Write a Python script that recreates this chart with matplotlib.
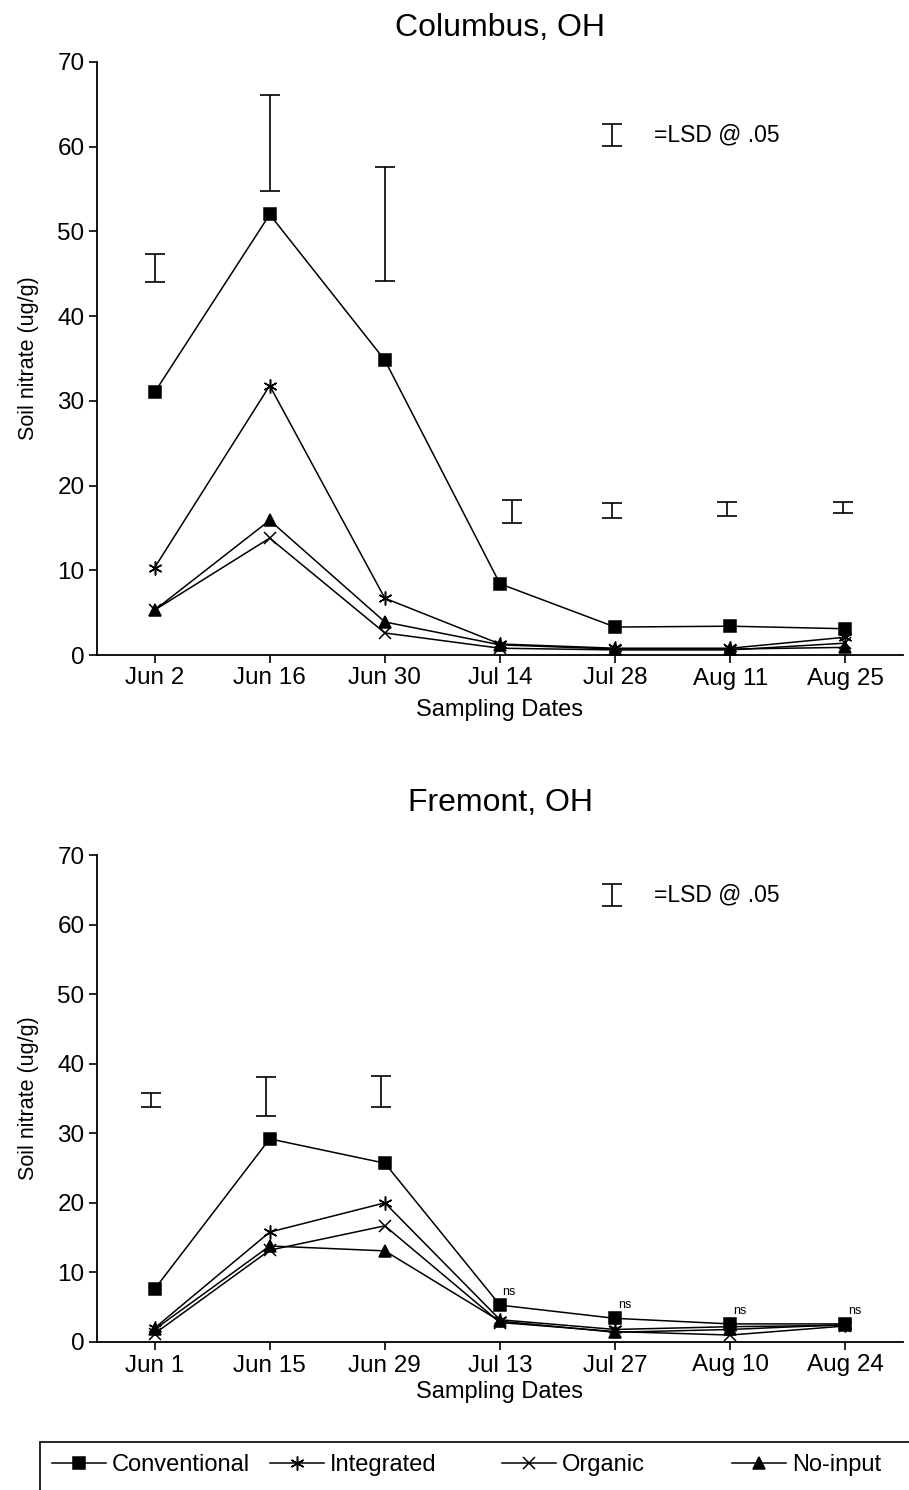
import matplotlib
matplotlib.use("Agg")
import matplotlib.pyplot as plt
from matplotlib.lines import Line2D
from matplotlib.patches import Rectangle

plt.rcParams['font.family'] = ['Liberation Sans', 'DejaVu Sans']

# ---- Columbus data ----
col_dates = ["Jun 2", "Jun 16", "Jun 30", "Jul 14", "Jul 28", "Aug 11", "Aug 25"]
col_conventional = [31.0, 52.0, 34.8, 8.4, 3.3, 3.4, 3.1]
col_integrated = [10.3, 31.8, 6.7, 1.3, 0.8, 0.8, 2.1]
col_organic = [5.3, 13.8, 2.6, 0.8, 0.6, 0.6, 1.4]
col_noinput = [5.3, 15.9, 3.9, 1.2, 0.7, 0.7, 0.9]
col_lsd_pos = [0, 1, 2, 3.1, 3.97, 4.97, 5.98]
col_lsd_low = [44.0, 54.8, 44.2, 15.6, 16.2, 16.4, 16.8]
col_lsd_high = [47.3, 66.1, 57.6, 18.3, 18.0, 18.1, 18.1]

# ---- Fremont data ----
fre_dates = ["Jun 1", "Jun 15", "Jun 29", "Jul 13", "Jul 27", "Aug 10", "Aug 24"]
fre_conventional = [7.6, 29.2, 25.7, 5.3, 3.4, 2.6, 2.6]
fre_integrated = [2.0, 15.8, 20.0, 3.2, 1.8, 2.2, 2.4]
fre_organic = [1.2, 13.2, 16.7, 2.8, 1.5, 1.0, 2.3]
fre_noinput = [1.8, 13.8, 13.1, 3.0, 1.4, 1.8, 2.5]
fre_lsd_pos = [-0.03, 0.97, 1.97]
fre_lsd_low = [33.8, 32.5, 33.8]
fre_lsd_high = [35.8, 38.1, 38.2]
fre_ns_idx = [3, 4, 5, 6]

series_names = ["Conventional", "Integrated", "Organic", "No-input"]
markers = ['s', (6, 2, 0), 'x', '^']
msizes = [8, 10, 8, 8]

fig = plt.figure(figsize=(9.09, 14.90), dpi=100)

CAP = 7.5


def draw(ax, dates, series, lsd_pos, lsd_low, lsd_high, title, legend_lsd,
         title_pad, xlabel_pad):
    x = list(range(len(dates)))
    for vals, m, ms in zip(series, markers, msizes):
        ax.plot(x, vals, color='black', lw=1.1, marker=m, ms=ms,
                markerfacecolor='black', markeredgecolor='black', mew=1.1)
    mid = [(a + b) / 2 for a, b in zip(lsd_low, lsd_high)]
    half = [(b - a) / 2 for a, b in zip(lsd_low, lsd_high)]
    ax.errorbar(lsd_pos, mid, yerr=half, fmt='none', ecolor='black',
                elinewidth=1.2, capsize=CAP, capthick=1.2)
    # legend LSD symbol
    lx, llo, lhi = legend_lsd
    ax.errorbar([lx], [(llo + lhi) / 2], yerr=[(lhi - llo) / 2], fmt='none',
                ecolor='black', elinewidth=1.2, capsize=CAP, capthick=1.2)
    ax.text(lx + 0.37, (llo + lhi) / 2, "=LSD @ .05", fontsize=16.5,
            va='center', ha='left')
    ax.set_xlim(-0.5, 6.5)
    ax.set_ylim(0, 70)
    ax.set_yticks(range(0, 71, 10))
    ax.set_xticks(x)
    ax.set_xticklabels(dates)
    ax.spines['top'].set_visible(False)
    ax.spines['right'].set_visible(False)
    ax.spines['left'].set_linewidth(1.3)
    ax.spines['bottom'].set_linewidth(1.3)
    ax.tick_params(axis='both', labelsize=17.5, direction='out', length=6,
                   width=1.2, pad=3)
    ax.set_xlabel("Sampling Dates", fontsize=17, labelpad=xlabel_pad)
    ax.set_ylabel("Soil nitrate (ug/g)", fontsize=15.5, labelpad=13)
    ax.set_title(title, fontsize=23, pad=title_pad)


ax1 = fig.add_axes([97 / 909, 1 - 655 / 1490, 806 / 909, 593 / 1490])
draw(ax1, col_dates, [col_conventional, col_integrated, col_organic, col_noinput],
     col_lsd_pos, col_lsd_low, col_lsd_high, "Columbus, OH", (3.97, 60.1, 62.7),
     19, 7)

ax2 = fig.add_axes([97 / 909, 1 - 1342 / 1490, 806 / 909, 487 / 1490])
draw(ax2, fre_dates, [fre_conventional, fre_integrated, fre_organic, fre_noinput],
     fre_lsd_pos, fre_lsd_low, fre_lsd_high, "Fremont, OH", (3.97, 62.6, 65.8),
     32, 3)
for i in fre_ns_idx:
    ax2.text(i + 0.08, fre_conventional[i] + 1.0, "ns", fontsize=9,
             ha='center', va='bottom')

# legend frame
fig.patches.append(Rectangle((40 / 909, -0.01), 0.98, (1490 - 1442) / 1490 + 0.01,
                             transform=fig.transFigure, fill=False,
                             edgecolor='black', lw=1.2))
leg_x = [52 / 909, 270 / 909, 502 / 909, 732 / 909]
for name, m, ms, lx in zip(series_names, markers, msizes, leg_x):
    h = Line2D([], [], color='black', lw=1.1, marker=m, ms=ms,
               markerfacecolor='black', mew=1.1)
    lg = fig.legend([h], [name], loc='center left',
                    bbox_to_anchor=(lx, 1 - 1465 / 1490), frameon=False,
                    fontsize=17, handlelength=2.3, handletextpad=0.25,
                    borderpad=0, borderaxespad=0)

fig.savefig("out.png", dpi=100)
